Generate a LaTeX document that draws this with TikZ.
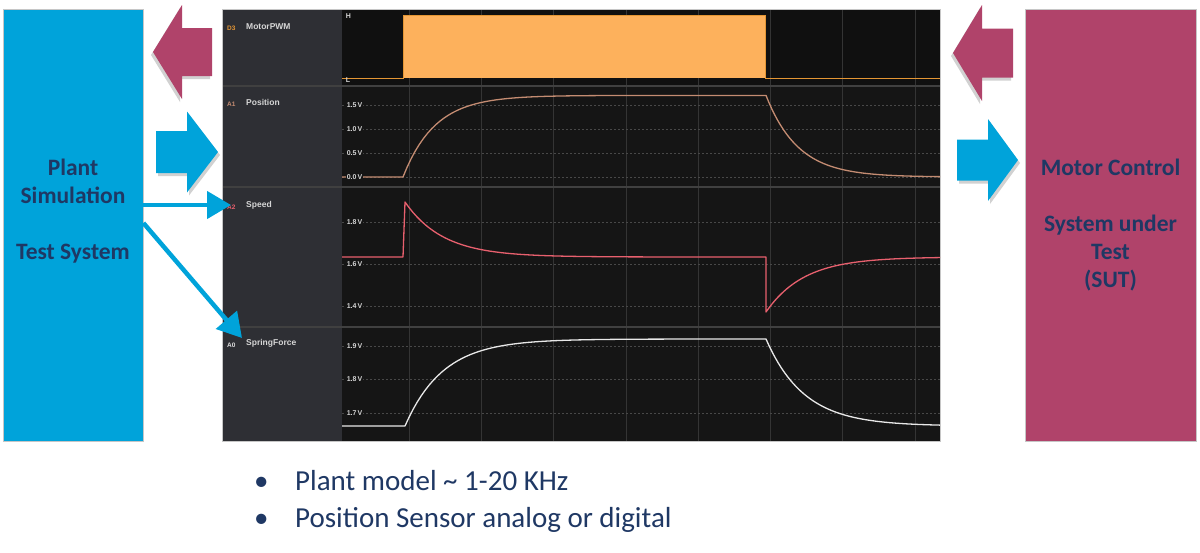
\documentclass[tikz,border=0pt]{standalone}
\usepackage{fontspec}
\setmainfont{Carlito}
\newfontfamily\scopefont{Liberation Sans}
\usetikzlibrary{arrows.meta,positioning}
\definecolor{plantblue}{RGB}{0,163,218}
\definecolor{sutmagenta}{RGB}{176,67,106}
\definecolor{navytext}{RGB}{31,56,100}
\definecolor{lblgray}{RGB}{46,47,52}
\definecolor{plotbg}{RGB}{21,21,21}
\definecolor{pwmbg}{RGB}{16,16,16}
\definecolor{gridcol}{RGB}{52,52,52}
\definecolor{scopetext}{RGB}{214,214,214}
\definecolor{pwmorange}{RGB}{253,177,92}
\definecolor{pwmedge}{RGB}{228,150,52}
\definecolor{poscol}{RGB}{196,140,114}
\definecolor{speedcol}{RGB}{232,96,110}
\definecolor{forcecol}{RGB}{232,232,232}

\begin{document}
\begin{tikzpicture}[
  x=1pt,y=-1pt,
  sysbox/.style={draw=gray!45,line width=0.8pt,minimum width=140pt,minimum height=432pt,inner sep=0pt},
  boxtext/.style={text=navytext,font=\fontsize{23.5}{28}\selectfont\bfseries,align=center},
  chid/.style={anchor=west,inner sep=0pt,font=\scopefont\fontsize{6.5}{7}\selectfont\bfseries},
  chname/.style={anchor=west,inner sep=0pt,text=scopetext,font=\scopefont\fontsize{8.5}{9}\selectfont\bfseries},
  ticklbl/.style={anchor=west,inner sep=0.6pt,fill=plotbg,text=scopetext,font=\scopefont\fontsize{7}{8}\selectfont\bfseries},
  gridv/.style={draw=gridcol,line width=0.7pt},
  gridh/.style={draw=gridcol!90!white,line width=0.5pt,dash pattern=on 2pt off 2pt},
  rowsep/.style={draw=black!75,line width=1.6pt},
  curve/.style={line width=1.3pt,line join=round},
  thinarr/.style={-{Triangle[length=24pt,width=27pt]},line width=4.5pt,draw=plantblue},
  bullettxt/.style={anchor=base west,inner sep=0pt,text=navytext,font=\fontsize{29}{32}\selectfont},
  pics/fatarrow/.style n args={4}{code={
    \fill[black,opacity=0.18,shift={(2,3)}] (0,0) -- (-#1,-#2) -- (-#1,-#3) -- (-#4,-#3)
      -- (-#4,#3) -- (-#1,#3) -- (-#1,#2) -- cycle;
    \fill[pic actions] (0,0) -- (-#1,-#2) -- (-#1,-#3) -- (-#4,-#3)
      -- (-#4,#3) -- (-#1,#3) -- (-#1,#2) -- cycle;
  }},
]
  \useasboundingbox (0,0) rectangle (1200,552);

  % Test system and SUT
  \node[sysbox,fill=plantblue] (plant) at (73,225) {};
  \node[boxtext] (planttxt) at ([yshift=14pt]plant.center) {Plant\\Simulation\\[28pt]Test System};
  \node[sysbox,fill=sutmagenta,minimum width=171pt] (sut) at (1110.5,225) {};
  \node[boxtext] (suttxt) at (sut.center) {Motor Control\\[28pt]System under\\Test\\(SUT)};

  % Scope panel
  \fill[lblgray] (222,9) rectangle (342,441);
  \fill[plotbg] (342,9) rectangle (940,441);
  \fill[pwmbg] (342,9) rectangle (940,86);
  \foreach \gx in {0,...,7}
    \draw[gridv] ({409+72.3*\gx},9) -- ({409+72.3*\gx},441);
  \foreach \gy in {105,129,153,177,222,264,306,346,379.5,413}
    \draw[gridh] (342,\gy) -- (940,\gy);
  \foreach \ry in {86,187,327}
    \draw[rowsep] (222,\ry) -- (940,\ry);
  \draw[gray!45,line width=0.8pt] (222,9) rectangle (940,441);

  % Channel names
  \node[chid,text=pwmedge] (d3) at (227,28) {D3};
  \node[chname] (pwmlbl) at (246,27) {MotorPWM};
  \node[chid,text=poscol] (a1) at (227,104) {A1};
  \node[chname] (poslbl) at (246,102) {Position};
  \node[chid,text=speedcol] (a2) at (227,207) {A2};
  \node[chname] (speedlbl) at (246,205) {Speed};
  \node[chid,text=scopetext!80] (a0) at (227,345) {A0};
  \node[chname] (forcelbl) at (246,343) {SpringForce};

  % MotorPWM
  \fill[pwmorange] (403,15) rectangle (765,78);
  \draw[pwmedge,line width=1pt] (342,78) -- (403,78) -- (403,15) -- (765,15) -- (765,78) -- (940,78);
  \node[ticklbl,fill=none] (hmark) at (345,16) {H};
  \node[ticklbl,fill=none] (lmark) at (345,80) {L};

  % Position
  \draw[curve,poscol] (342,177) -- (403,177)
    -- plot[domain=403:766,samples=90] (\x,{177-81.6*(1-exp(-(\x-403)/32))})
    -- plot[domain=766:940,samples=60] (\x,{95.4+81.6*(1-exp(-(\x-766)/32))});
  \foreach \v/\gy in {1.5/105,1.0/129,0.5/153,0.0/177}
    \node[ticklbl] at (346,\gy) {\v\,V};

  % Speed
  \draw[curve,speedcol] (342,257) -- (403,257) -- (405,202)
    -- plot[domain=405:766,samples=90] (\x,{257-55*exp(-(\x-405)/38)})
    -- (766,312)
    -- plot[domain=766:940,samples=60] (\x,{257+55*exp(-(\x-766)/38)});
  \foreach \v/\gy in {1.8/222,1.6/264,1.4/306}
    \node[ticklbl] at (346,\gy) {\v\,V};

  % SpringForce
  \draw[curve,forcecol] (342,426) -- (405,426)
    -- plot[domain=405:766,samples=90] (\x,{426-87*(1-exp(-(\x-405)/38))})
    -- plot[domain=766:940,samples=60] (\x,{339+87*(1-exp(-(\x-766)/38))});
  \foreach \v/\gy in {1.9/346,1.8/379.5,1.7/413}
    \node[ticklbl] at (346,\gy) {\v\,V};

  % Block arrows
  \pic[fill=sutmagenta,xscale=-1] (pwmout) at (153,52) {fatarrow={29}{47}{24}{59}};
  \pic[fill=plantblue] (posin) at (218,152) {fatarrow={31}{40.5}{21}{62}};
  \pic[fill=sutmagenta,xscale=-1] (pwmin) at (953,53) {fatarrow={29}{48}{24.5}{60}};
  \pic[fill=plantblue] (posout) at (1018,160) {fatarrow={30}{41}{20.5}{61}};

  % Plant outputs
  \coordinate (speedin) at (231,205);
  \coordinate (forcein) at (242,338);
  \draw[thinarr] (plant.east |- speedin) -- (speedin);
  \draw[thinarr] ([yshift=2pt]plant.east) -- (forcein);

  % Notes
  \node[bullettxt] (dot1) at (254,490) {\textbullet};
  \node[bullettxt] (note1) at (295,490) {Plant model \textasciitilde{} 1-20 KHz};
  \node[bullettxt] (dot2) at (254,527) {\textbullet};
  \node[bullettxt] (note2) at (295,527) {Position Sensor analog or digital};
\end{tikzpicture}
\end{document}
